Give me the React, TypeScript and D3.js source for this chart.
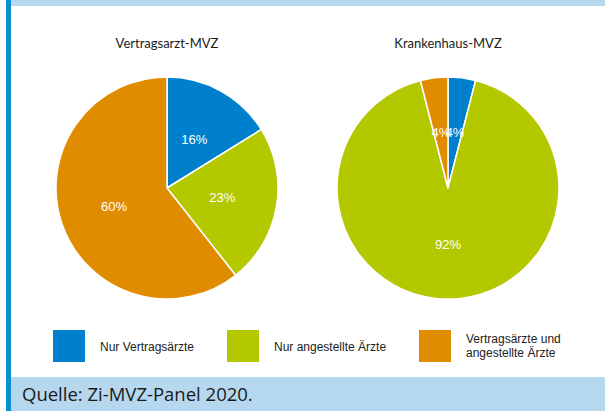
import React from 'react';
import * as d3 from 'd3';

// data
const categories = ['Nur Vertragsärzte', 'Nur angestellte Ärzte', 'Vertragsärzte und angestellte Ärzte'];
const legendLines = [['Nur Vertragsärzte'], ['Nur angestellte Ärzte'], ['Vertragsärzte und', 'angestellte Ärzte']];
const colors = ['#0080cc', '#b4c800', '#e08c00'];
const pieTitles = ['Vertragsarzt-MVZ', 'Krankenhaus-MVZ'];
const vertragsarztValues = [16, 23, 60];
const krankenhausValues = [4, 92, 4];
const source = 'Quelle: Zi-MVZ-Panel 2020.';

const W = 605;
const H = 411;
const radius = 111;
const centers = d3.scalePoint<string>().domain(pieTitles).range([167, 448]);
const cy = 188;

function Pie({ title, values }: { title: string; values: number[] }) {
  const pie = d3.pie<number>().sort(null).value((d) => d);
  const arcs = pie(values);
  const arc = d3.arc<d3.PieArcDatum<number>>().innerRadius(0).outerRadius(radius);
  const labelArc = d3.arc<d3.PieArcDatum<number>>().innerRadius(radius * 0.505).outerRadius(radius * 0.505);
  const cx = centers(title) as number;
  return (
    <g>
      <text x={cx} y={48} textAnchor="middle" fontFamily="Lato, 'Open Sans', sans-serif" fontSize={13} fill="#1a1a1a">
        {title}
      </text>
      <g transform={`translate(${cx},${cy})`}>
        {arcs.map((a, i) => (
          <path key={i} d={arc(a) || ''} fill={colors[i]} stroke="#fff" strokeWidth={1.5} strokeLinejoin="round" />
        ))}
        {arcs.map((a, i) => {
          const [x, y] = labelArc.centroid(a);
          return (
            <text key={'l' + i} x={x} y={y} dy="0.35em" textAnchor="middle" fontFamily="'Liberation Sans', Arial, sans-serif" fontSize={13} fill="#fff">
              {a.data + '%'}
            </text>
          );
        })}
      </g>
    </g>
  );
}

export default function App() {
  const legendX = d3.scaleOrdinal<string, number>().domain(categories).range([53, 227, 419]);
  return (
    <svg width={W} height={H} style={{ position: 'absolute', left: 0, top: 0, background: '#fff' }}>
      {/* frame */}
      <rect x={11} y={0} width={W - 11} height={6} fill="#b6d8ee" />
      <rect x={11} y={377} width={W - 11} height={H - 377} fill="#b6d8ee" />
      <rect x={6} y={0} width={5} height={H} fill="#0a8fd2" />

      <Pie title={pieTitles[0]} values={vertragsarztValues} />
      <Pie title={pieTitles[1]} values={krankenhausValues} />

      {/* legend */}
      {categories.map((c, i) => {
        const x = legendX(c);
        const lines = legendLines[i];
        return (
          <g key={c}>
            <rect x={x} y={330} width={32} height={32} fill={colors[i]} />
            {lines.map((t, j) => (
              <text
                key={j}
                x={x + 47}
                y={lines.length === 1 ? 350.5 : 343 + j * 14}
                fontFamily="'Liberation Sans', Arial, sans-serif"
                fontSize={12}
                fill="#222"
              >
                {t}
              </text>
            ))}
          </g>
        );
      })}

      <text x={22} y={401} fontFamily="'Open Sans', Lato, sans-serif" fontSize={18.5} fill="#1a1a1a">
        {source}
      </text>
    </svg>
  );
}
